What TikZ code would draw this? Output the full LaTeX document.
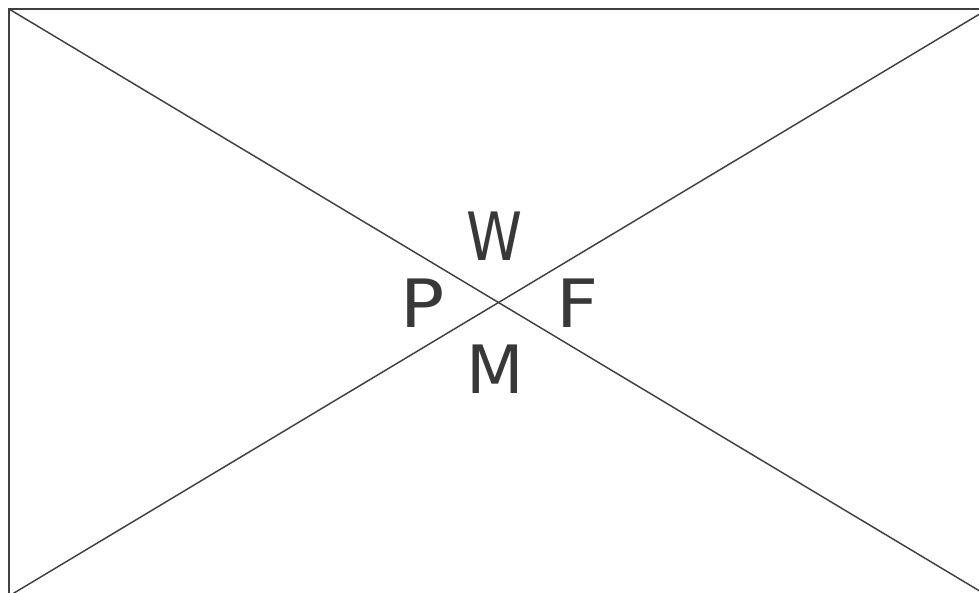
\documentclass[tikz,border=0pt]{standalone}
\usepackage{fontspec}
\setmainfont{DejaVu Sans}
\newfontfamily\narrowfont[FakeStretch=0.85]{DejaVu Sans}
\newfontfamily\wideishfont[FakeStretch=1.1]{DejaVu Sans}
\tikzset{
  frame/.style={draw=black!75, line width=1.4pt},
  diag/.style={draw=black!75, line width=1.1pt},
  lbl/.style={text=black!78, inner sep=0pt, font=\fontsize{50}{54}\selectfont}
}
\begin{document}
\begin{tikzpicture}[x=0.75pt,y=-0.75pt]
\useasboundingbox (0,0) rectangle (979,593);
\coordinate (tl) at (9,9);
\coordinate (tr) at (988,9);
\coordinate (bl) at (9,596);
\coordinate (br) at (988,596);
\begin{scope}
\clip (0,0) rectangle (979,593);
\draw[frame] (br) -- (tr) -- (tl) -- (bl) -- (br);
\draw[diag] (tl) -- (br);
\draw[diag] (bl) -- (tr);
\end{scope}
\node[lbl] (W) at (495,236) {\narrowfont W};
\node[lbl] (P) at (423,303) {\wideishfont P};
\node[lbl] (F) at (578,303) {\wideishfont F};
\node[lbl] (M) at (495,369) {M};
\end{tikzpicture}
\end{document}
